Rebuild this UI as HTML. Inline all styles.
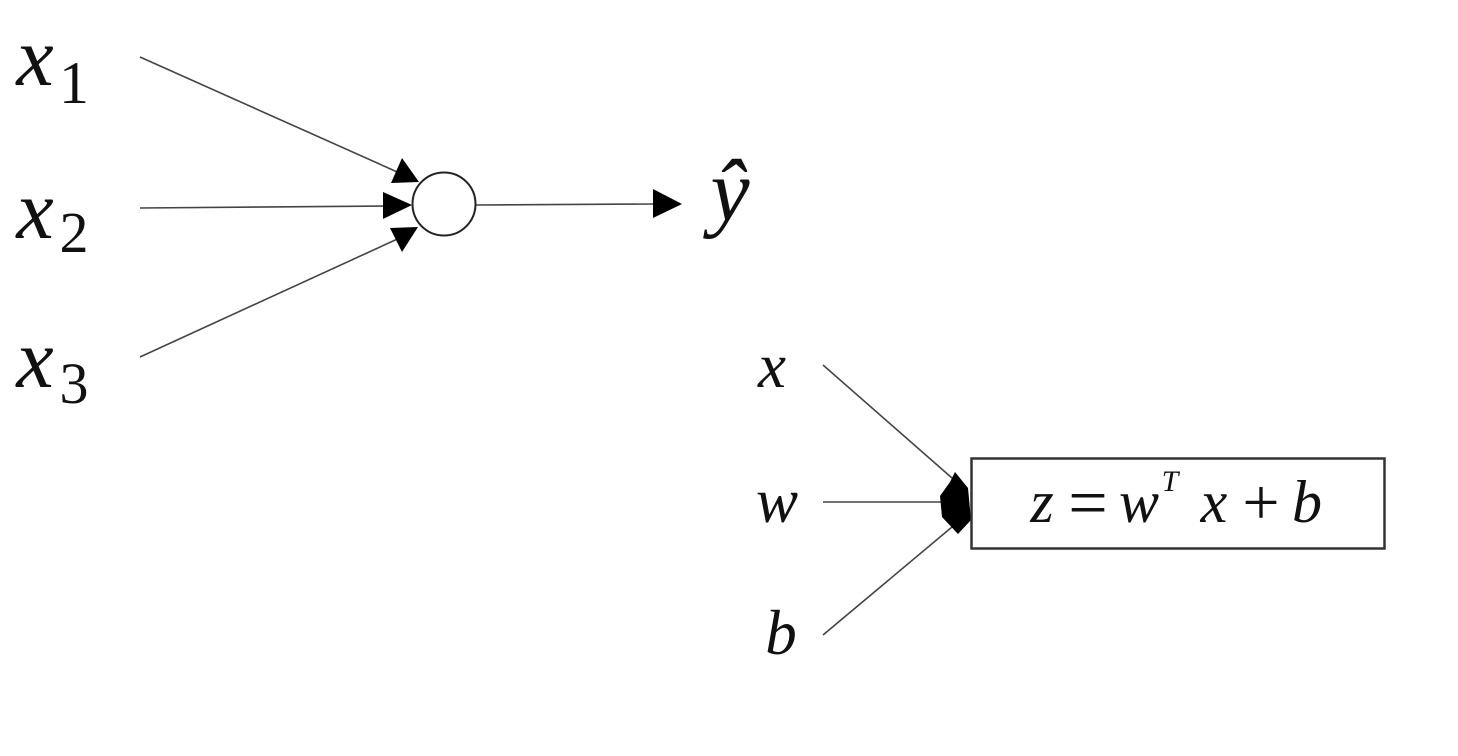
<!DOCTYPE html>
<html>
<head>
<meta charset="utf-8">
<style>
  html, body { margin: 0; padding: 0; background: #ffffff; }
  body { width: 1458px; height: 756px; overflow: hidden; }
  svg { display: block; }
  .it { font-family: "Liberation Serif", serif; font-style: italic; fill: #111; }
  .up { font-family: "Liberation Serif", serif; font-style: normal; fill: #111; }
</style>
</head>
<body>
<svg width="1458" height="756" viewBox="0 0 1458 756" xmlns="http://www.w3.org/2000/svg">
  <!-- Left: input labels -->
  <text class="it" x="35" y="85" font-size="84" text-anchor="middle">x</text>
  <text class="up" x="74" y="103" font-size="60" text-anchor="middle">1</text>

  <text class="it" x="35" y="238" font-size="84" text-anchor="middle">x</text>
  <text class="up" x="74" y="252" font-size="58" text-anchor="middle">2</text>

  <text class="it" x="35" y="387" font-size="84" text-anchor="middle">x</text>
  <text class="up" x="74" y="403" font-size="58" text-anchor="middle">3</text>

  <!-- Left: connectors -->
  <g stroke="#444" stroke-width="1.6" fill="none">
    <line x1="140" y1="57" x2="404" y2="175"/>
    <line x1="140" y1="208" x2="390" y2="206"/>
    <line x1="140" y1="357" x2="404" y2="236"/>
    <line x1="476" y1="205" x2="656" y2="204"/>
  </g>
  <!-- arrowheads -->
  <g fill="#000">
    <polygon points="402,158 391,183 419,182"/>
    <polygon points="383,192 383,219 412,205"/>
    <polygon points="390,228 418,227 402,252"/>
    <polygon points="653,189 653,218 682,204"/>
  </g>
  <!-- neuron circle -->
  <circle cx="444" cy="204" r="31.5" fill="#fff" stroke="#222" stroke-width="2"/>

  <!-- output label -->
  <text class="it" x="730" y="220" font-size="88" text-anchor="middle">ŷ</text>

  <!-- Right: input labels -->
  <text class="it" x="772" y="387" font-size="63" text-anchor="middle">x</text>
  <text class="it" x="777" y="522" font-size="63" text-anchor="middle">w</text>
  <text class="it" x="781" y="654" font-size="63" text-anchor="middle">b</text>

  <!-- Right: connectors -->
  <g stroke="#444" stroke-width="1.6" fill="none">
    <line x1="823" y1="365" x2="952" y2="478"/>
    <line x1="823" y1="502" x2="942" y2="502"/>
    <line x1="823" y1="635" x2="952" y2="527"/>
  </g>
  <polygon fill="#000" points="955,472 968,488 971,520 958,534 942,517 940,496 950,482"/>

  <!-- box -->
  <rect x="971.5" y="458.5" width="413" height="90" fill="#fff" stroke="#333" stroke-width="2.5"/>
  <g font-size="60">
    <text class="it" x="1042" y="522" text-anchor="middle">z</text>
    <text class="up" x="1088" y="526" text-anchor="middle" font-size="70">=</text>
    <text class="it" x="1139" y="522" text-anchor="middle">w</text>
    <text class="it" x="1170" y="491" text-anchor="middle" font-size="30">T</text>
    <text class="it" x="1214" y="522" text-anchor="middle">x</text>
    <text class="up" x="1261" y="524" text-anchor="middle" font-size="66">+</text>
    <text class="it" x="1307" y="522" text-anchor="middle">b</text>
  </g>
</svg>
</body>
</html>
